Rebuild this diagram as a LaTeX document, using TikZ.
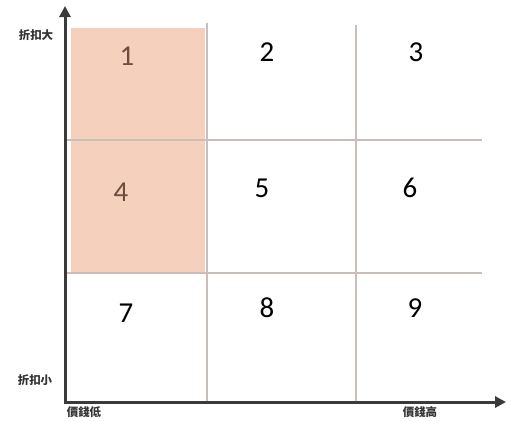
\documentclass[tikz,border=0pt]{standalone}
\usepackage{fontspec}
\setmainfont{Carlito}
\newfontfamily\cjk{Noto Sans CJK TC}
\usetikzlibrary{arrows.meta}
\definecolor{peachfill}{HTML}{F5D1BD}
\definecolor{gridc}{HTML}{C9BEBA}
\definecolor{axisc}{HTML}{3A3A3A}
\definecolor{brownnum}{HTML}{6E4C3E}
\begin{document}
\begin{tikzpicture}[x=1bp,y=-1bp,
  num/.style={font=\fontsize{29}{30}\selectfont, inner sep=0pt},
  lab/.style={font=\cjk\bfseries\fontsize{11.5}{12}\selectfont, inner sep=0pt, text=axisc!90!black},
  gridline/.style={draw=gridc, line width=1.4bp},
  axisline/.style={draw=axisc, line width=3bp, -{Triangle[length=11bp,width=11bp]}}]
\useasboundingbox (0,0) rectangle (511,420);
\fill[peachfill] (71,28) rectangle (205,272);
% grid
\coordinate (v1t) at (207,23); \coordinate (v1b) at (207,402);
\coordinate (v2t) at (356,25); \coordinate (v2b) at (356,402);
\coordinate (h1l) at (65,140); \coordinate (h1r) at (482,140);
\coordinate (h2l) at (65,273); \coordinate (h2r) at (482,273);
\draw[gridline] (v1t) -- (v1b);
\draw[gridline] (v2t) -- (v2b);
\draw[gridline] (h1l) -- (h1r);
\draw[gridline] (h2l) -- (h2r);
% axes
\coordinate (o) at (65,402);
\coordinate (yt) at (65,6);
\coordinate (xt) at (506,402);
\draw[axisline] ([yshift=-1.5bp]o) -- (yt);
\draw[axisline] ([xshift=-1.5bp]o) -- (xt);
% numbers
\node[num, text=brownnum] (n1) at (127,56) {1};
\node[num] (n2) at (267,52) {2};
\node[num] (n3) at (416,52) {3};
\node[num, text=brownnum] (n4) at (121,192) {4};
\node[num] (n5) at (262,188) {5};
\node[num] (n6) at (410,188) {6};
\node[num] (n7) at (126,313) {7};
\node[num] (n8) at (267,308) {8};
\node[num] (n9) at (415,308) {9};
% labels
\node[lab] (lt) at (36,35) {折扣大};
\node[lab] (lb) at (35,380) {折扣小};
\node[lab] (xl) at (84,412) {價錢低};
\node[lab] (xh) at (420,412) {價錢高};
\end{tikzpicture}
\end{document}
